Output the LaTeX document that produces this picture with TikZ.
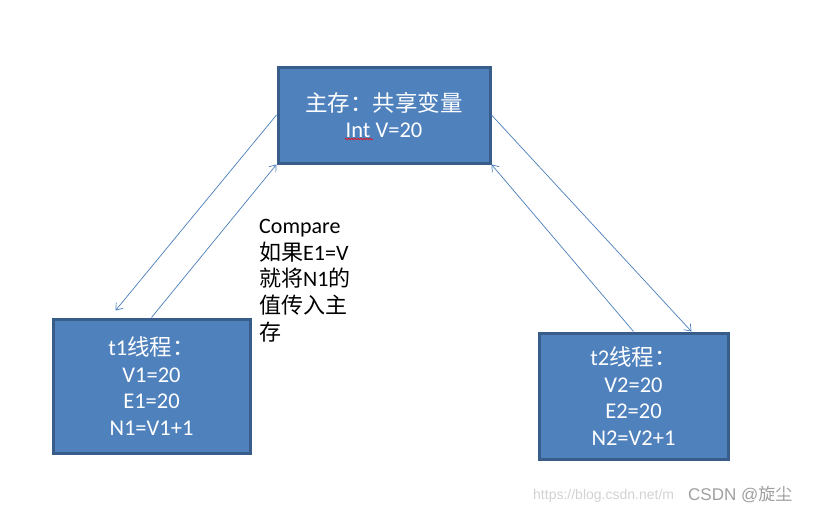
\documentclass[tikz,border=0pt]{standalone}
\usepackage{fontspec}
\setmainfont{Carlito}
\newfontfamily\cjk{Noto Sans CJK SC}
\newfontfamily\wmfont{Liberation Sans}
\usetikzlibrary{arrows.meta,calc,decorations.pathmorphing}
\definecolor{boxfill}{HTML}{4F81BD}
\definecolor{boxline}{HTML}{385D8A}
\definecolor{linkblue}{HTML}{4A7EBB}
\begin{document}
\begin{tikzpicture}[x=1pt,y=-1pt,
    memory/.style={draw=boxline, line width=3pt, fill=boxfill, text=white,
        align=center, inner sep=0pt, font=\fontsize{22.5}{26.5}\selectfont},
    link/.style={draw=linkblue, line width=0.7pt, -{Straight Barb[length=6pt,width=9pt]}}]
    \useasboundingbox (0,0) rectangle (815,515);

    % the three boxes
    \node[memory, minimum width=212pt, minimum height=96pt] (main) at (384,115)
        {{\cjk 主存：共享变量}\\Int V=20};
    \node[memory, minimum width=197pt, minimum height=134pt] (t1) at (151.5,386)
        {t1{\cjk 线程：}\\V1=20\\E1=20\\N1=V1+1};
    \node[memory, minimum width=189pt, minimum height=126pt] (t2) at (633.5,396)
        {t2{\cjk 线程：}\\V2=20\\E2=20\\N2=V2+1};
    \draw[red, line width=0.6pt, decorate,
        decoration={snake, amplitude=0.8pt, segment length=3pt}] (345,139) -- (373,139);

    % free ends of the arrows
    \coordinate (t1in) at ($(t1.north west)+(64,-7)$);
    \coordinate (t2in) at ($(t2.north east)+(-38,0)$);

    % read and write back
    \draw[link] (main.west) -- (t1in);
    \draw[link] (t1.north) -- (main.south west);
    \draw[link] (main.east) -- (t2in);
    \draw[link] (t2.north) -- (main.south east);

    % note beside the left arrows
    \node[anchor=north west, align=left, inner sep=0pt,
        font=\fontsize{22}{26.7}\selectfont] (note) at (259,219)
        {Compare\\{\cjk 如果}E1=V\\{\cjk 就将}N1{\cjk 的}\\{\cjk 值传入主}\\{\cjk 存}};

    % watermark
    \node[anchor=west, inner sep=0pt, text=gray!35,
        font=\wmfont\fontsize{14}{14}\selectfont] (url) at (533,496) {https://blog.csdn.net/m};
    \node[anchor=west, inner sep=0pt, text=gray!75,
        font=\wmfont\fontsize{17}{17}\selectfont] (mark) at (688,495) {CSDN @{\cjk 旋尘}};
\end{tikzpicture}
\end{document}
